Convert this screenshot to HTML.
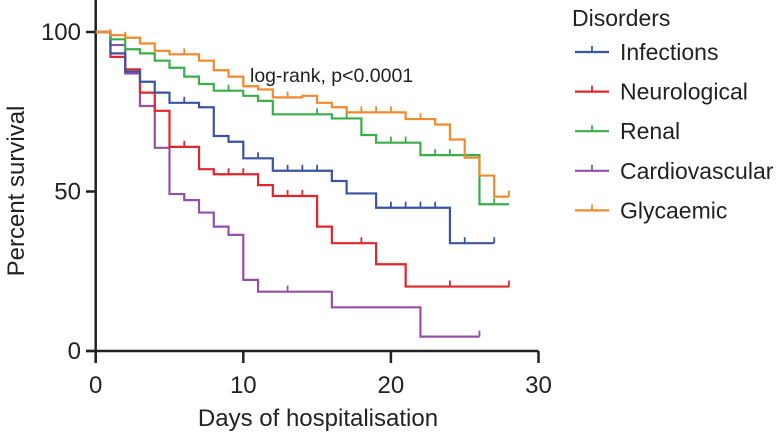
<!DOCTYPE html>
<html><head><meta charset="utf-8"><style>
html,body{margin:0;padding:0;background:#fff;}
svg text{font-family:"Liberation Sans",sans-serif;fill:#222;}
</style></head><body>
<svg id="chart" width="781" height="440" viewBox="0 0 781 440" xmlns="http://www.w3.org/2000/svg">
<g id="axes"></g>
<g id="series"></g>
<text x="250" y="82" font-size="19.5">log-rank, p&lt;0.0001</text>
<text x="318" y="426" font-size="24" text-anchor="middle">Days of hospitalisation</text>
<text transform="translate(24,191) rotate(-90)" font-size="24" text-anchor="middle">Percent survival</text>
<text x="572" y="26" font-size="23">Disorders</text>
<g id="legend"></g>
</svg>
<script>
const xTicks = [0, 10, 20, 30];
const yTicks = [0, 50, 100];
const seriesNames = ["Infections", "Neurological", "Renal", "Cardiovascular", "Glycaemic"];
const seriesColors = ["#3a54a0", "#e0262c", "#3aae4a", "#9450a8", "#f08a2c"];
const infTimes = [0,1,2,3,4,5,7,8,9,10,12,16,17,19,24];
const infVals = [100,93.3,87.6,84.4,81,77.8,76.4,67.4,65.6,60.4,56.5,53.3,49.4,44.9,33.8];
const infCens = [6,11,13,14,15,20,21,22,23,25,27];
const infEnd = 27;
const neuTimes = [0,1,2,3,4,5,7,8,11,12,15,16,19,21];
const neuVals = [100,92.2,88.3,81,75.3,64,57,55.4,52,48.6,39,33.8,27.2,20.2];
const neuCens = [6,9,10,13,14,18,24,28];
const neuEnd = 28;
const renTimes = [0,1,2,3,4,5,6,7,8,10,11,12,16,18,19,22,26];
const renVals = [100,97.7,94.6,93.3,91,88.8,86,83.7,81.6,80,78.4,74.2,72.9,67.7,65.3,61.4,46];
const renCens = [9,15,17,20,21,23,24,27];
const renEnd = 28;
const carTimes = [0,1,2,3,4,5,6,7,8,9,10,11,16,22];
const carVals = [100,95.9,87,76.8,63.7,49.2,47.3,43.4,39,36.4,22.3,18.6,13.7,4.5];
const carCens = [13,26];
const carEnd = 26;
const glyTimes = [0,1,2,3,4,5,7,8,9,10,11,12,14,15,16,17,21,23,24,25,26,27];
const glyVals = [100,99,98.2,96.4,94.1,93,91,88,86,83,82,79.5,80,77.8,76.4,74.8,72.7,71,66.3,60.6,55,48.4];
const glyCens = [1,2,6,13,18,19,20,22,28];
const glyEnd = 28;

const NS = "http://www.w3.org/2000/svg";
const X0 = 95.7, XS = 14.76, Y0 = 351, YS = 3.19;
function xs(d){return X0 + d*XS;}
function ys(v){return Y0 - v*YS;}
function mk(tag, attrs, parent){const e=document.createElementNS(NS,tag);for(const k in attrs)e.setAttribute(k,attrs[k]);parent.appendChild(e);return e;}

const axes = document.getElementById('axes');
let yl = mk('line',{x1:X0,y1:0,x2:X0,y2:363,stroke:'#222','stroke-width':2.5},axes);


let xl = mk('line',{x1:86,y1:Y0,x2:xs(30),y2:Y0,stroke:'#222','stroke-width':2.5},axes);


xTicks.forEach(t=>{
  const tk = mk('line',{x1:xs(t),y1:Y0,x2:xs(t),y2:363,stroke:'#222','stroke-width':2.5},axes);
  
  
  const tx = mk('text',{x:xs(t),y:393,'font-size':24,'text-anchor':'middle'},axes);
  tx.textContent = t;
  
  
});
yTicks.forEach(t=>{
  const tk = mk('line',{x1:86,y1:ys(t),x2:X0,y2:ys(t),stroke:'#222','stroke-width':2.5},axes);
  
  
  const tx = mk('text',{x:81,y:ys(t)+8,'font-size':24,'text-anchor':'end'},axes);
  tx.textContent = t;
  
  
});

const all = [
  [infTimes,infVals,infCens,infEnd],
  [neuTimes,neuVals,neuCens,neuEnd],
  [renTimes,renVals,renCens,renEnd],
  [carTimes,carVals,carCens,carEnd],
  [glyTimes,glyVals,glyCens,glyEnd]
];
const sg = document.getElementById('series');
const order=[3,1,0,2,4];
order.forEach(i=>{
  const [T,V,C,E] = all[i];
  let d = 'M'+xs(T[0])+','+ys(V[0]);
  for(let k=1;k<T.length;k++){d+=' H'+xs(T[k])+' V'+ys(V[k]);}
  d += ' H'+xs(E);
  const p = mk('path',{d:d,fill:'none',stroke:seriesColors[i],'stroke-width':2.2},sg);
  
  
  C.forEach(c=>{
    let v=V[0];
    for(let k=0;k<T.length;k++){if(T[k]<=c)v=V[k];}
    const m = mk('line',{x1:xs(c),y1:ys(v),x2:xs(c),y2:ys(v)-6,stroke:seriesColors[i],'stroke-width':1.8},sg);
    
    
  });
});

const lg = document.getElementById('legend');
seriesNames.forEach((n,i)=>{
  const cy = 52 + i*39.6;
  const g = mk('g',{},lg);
  
  
  mk('line',{x1:575,y1:cy,x2:609,y2:cy,stroke:seriesColors[i],'stroke-width':2.2},g);
  mk('line',{x1:592,y1:cy,x2:592,y2:cy-6,stroke:seriesColors[i],'stroke-width':1.8},g);
  const t = mk('text',{x:620,y:cy+8,'font-size':23},g);
  t.textContent = n;
});
</script>
</body></html>
